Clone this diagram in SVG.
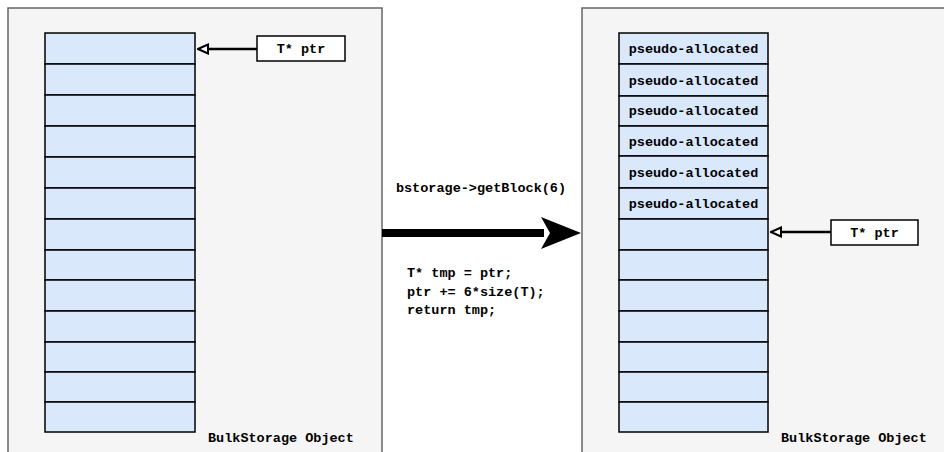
<svg xmlns="http://www.w3.org/2000/svg" width="944" height="452" viewBox="0 0 944 452">
  <style>
    .panel { fill: #f5f5f5; stroke: #666666; stroke-width: 1.5; }
    .cell { fill: #dae8fc; stroke: #000000; stroke-width: 1.5; }
    .ptrbox { fill: #ffffff; stroke: #000000; stroke-width: 1.5; }
    .mono { font-family: "Liberation Mono", "Courier New", monospace; font-weight: bold; font-size: 13.5px; fill: #000000; }
    .ptrline { stroke: #000000; stroke-width: 2.5; fill: none; }
  </style>
  <defs>
    <marker id="openTri" markerWidth="12" markerHeight="12" refX="1" refY="6" orient="auto" markerUnits="userSpaceOnUse">
      <path d="M11,6 L1,1.5 L1,10.5 Z" fill="#ffffff" stroke="#000000" stroke-width="2"/>
    </marker>
  </defs>
  <rect x="0" y="0" width="944" height="452" fill="#ffffff"/>

  <!-- left storage object -->
  <g id="left-storage">
    <rect class="panel" x="8" y="8" width="374" height="460"/>
    <rect class="cell" x="45" y="33" width="150" height="31"/>
    <rect class="cell" x="45" y="64" width="150" height="31"/>
    <rect class="cell" x="45" y="95" width="150" height="31"/>
    <rect class="cell" x="45" y="126" width="150" height="31"/>
    <rect class="cell" x="45" y="157" width="150" height="31"/>
    <rect class="cell" x="45" y="188" width="150" height="31"/>
    <rect class="cell" x="45" y="219" width="150" height="31"/>
    <rect class="cell" x="45" y="250" width="150" height="30"/>
    <rect class="cell" x="45" y="280" width="150" height="31"/>
    <rect class="cell" x="45" y="311" width="150" height="31"/>
    <rect class="cell" x="45" y="342" width="150" height="30"/>
    <rect class="cell" x="45" y="372" width="150" height="30"/>
    <rect class="cell" x="45" y="402" width="150" height="30"/>
    <text class="mono" x="208" y="442">BulkStorage Object</text>
  </g>
  <g id="left-ptr">
    <rect class="ptrbox" x="257" y="36" width="88" height="25"/>
    <text class="mono" x="301" y="53" text-anchor="middle">T* ptr</text>
  </g>

  <!-- right storage object -->
  <g id="right-storage">
    <rect class="panel" x="582" y="8" width="380" height="460"/>
    <rect class="cell" x="619" y="33" width="149" height="31"/>
    <rect class="cell" x="619" y="64" width="149" height="32"/>
    <rect class="cell" x="619" y="96" width="149" height="30"/>
    <rect class="cell" x="619" y="126" width="149" height="30"/>
    <rect class="cell" x="619" y="156" width="149" height="32"/>
    <rect class="cell" x="619" y="188" width="149" height="31"/>
    <rect class="cell" x="619" y="219" width="149" height="31"/>
    <rect class="cell" x="619" y="250" width="149" height="30"/>
    <rect class="cell" x="619" y="280" width="149" height="31"/>
    <rect class="cell" x="619" y="311" width="149" height="31"/>
    <rect class="cell" x="619" y="342" width="149" height="30"/>
    <rect class="cell" x="619" y="372" width="149" height="30"/>
    <rect class="cell" x="619" y="402" width="149" height="30"/>
    <text class="mono" x="693.5" y="53" text-anchor="middle">pseudo-allocated</text>
    <text class="mono" x="693.5" y="85" text-anchor="middle">pseudo-allocated</text>
    <text class="mono" x="693.5" y="115" text-anchor="middle">pseudo-allocated</text>
    <text class="mono" x="693.5" y="146" text-anchor="middle">pseudo-allocated</text>
    <text class="mono" x="693.5" y="177" text-anchor="middle">pseudo-allocated</text>
    <text class="mono" x="693.5" y="208" text-anchor="middle">pseudo-allocated</text>
    <text class="mono" x="781" y="442">BulkStorage Object</text>
  </g>
  <g id="right-ptr">
    <rect class="ptrbox" x="831" y="220" width="87" height="25"/>
    <text class="mono" x="874.5" y="237" text-anchor="middle">T* ptr</text>
  </g>

  <!-- connectors -->
  <g id="connectors">
    <line class="ptrline" x1="257" y1="49" x2="208" y2="49" marker-end="url(#openTri)"/>
    <line class="ptrline" x1="831" y1="232" x2="781" y2="232" marker-end="url(#openTri)"/>
    <line x1="382" y1="233" x2="544" y2="233" stroke="#000000" stroke-width="8"/>
    <path d="M581,233 L541,217 L550,233 L541,249 Z" fill="#000000"/>
  </g>

  <!-- operation labels -->
  <g id="operation">
    <text class="mono" x="481" y="192" text-anchor="middle">bstorage-&gt;getBlock(6)</text>
    <text class="mono" x="407" y="277">T* tmp = ptr;</text>
    <text class="mono" x="407" y="296">ptr += 6*size(T);</text>
    <text class="mono" x="407" y="314">return tmp;</text>
  </g>
</svg>
